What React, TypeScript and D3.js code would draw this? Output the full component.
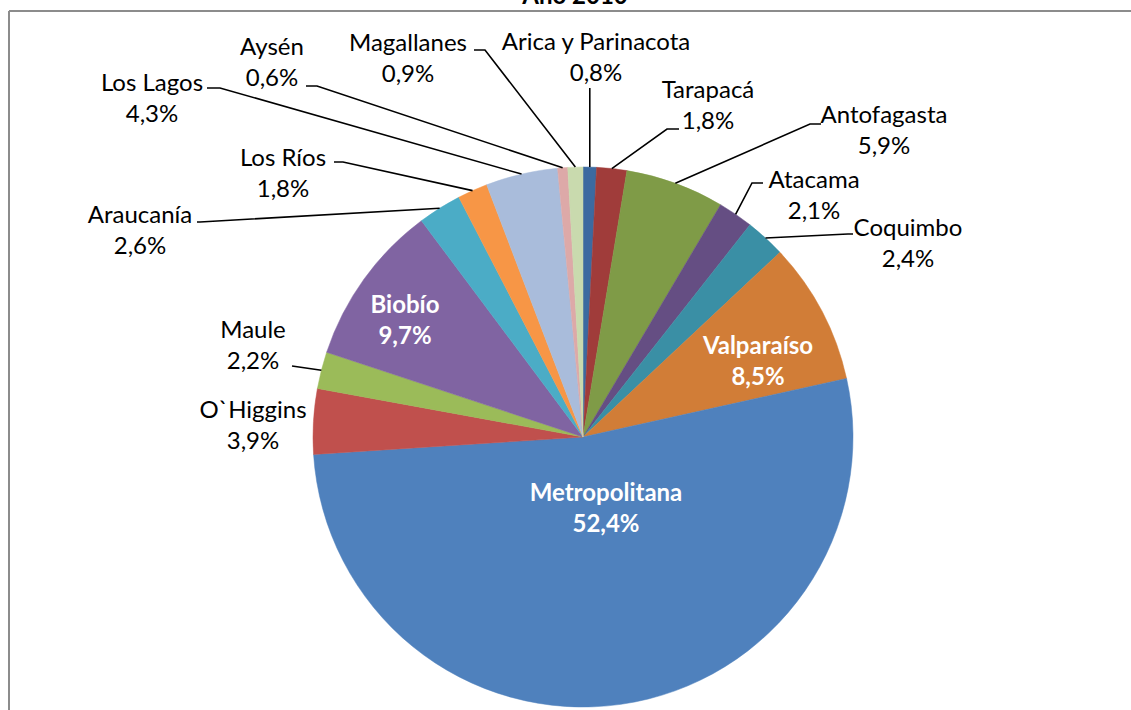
import React from "react";
import * as d3 from "d3";

const regions = ["Arica y Parinacota", "Tarapacá", "Antofagasta", "Atacama", "Coquimbo", "Valparaíso", "Metropolitana", "O`Higgins", "Maule", "Biobío", "Araucanía", "Los Ríos", "Los Lagos", "Aysén", "Magallanes"];
const shares = [0.8, 1.8, 5.9, 2.1, 2.4, 8.5, 52.4, 3.9, 2.2, 9.7, 2.6, 1.8, 4.3, 0.6, 0.9];
const labels = ["0,8%", "1,8%", "5,9%", "2,1%", "2,4%", "8,5%", "52,4%", "3,9%", "2,2%", "9,7%", "2,6%", "1,8%", "4,3%", "0,6%", "0,9%"];
const colors = ["#3C6AA0", "#A03C3A", "#7F9B47", "#654E83", "#3A8FA5", "#D17D37", "#4F81BD", "#C0504D", "#9BBB59", "#8064A2", "#4BACC6", "#F79646", "#A9BCDB", "#DDA9A8", "#C9DAAE"];
const title = "Año 2010";

// label layout: center x, visual center y of first line, inside flag, leader points (after arc point)
const layout: { x: number; y: number; inside?: boolean; pts?: [number, number][] }[] = [
  { x: 596, y: 42, pts: [[0, 88]] },
  { x: 708, y: 90, pts: [[667, 129], [679, 129]] },
  { x: 884, y: 115, pts: [[810, 124], [821, 124]] },
  { x: 814, y: 180, pts: [[752, 183], [763, 183]] },
  { x: 908, y: 228, pts: [[848, 234], [853, 234]] },
  { x: 758, y: 346, inside: true },
  { x: 606, y: 493, inside: true },
  { x: 253, y: 410 },
  { x: 253, y: 330, pts: [[292, 366]] },
  { x: 405, y: 305, inside: true },
  { x: 140, y: 215, pts: [[200, 222], [197, 222]] },
  { x: 283, y: 158, pts: [[343, 162], [334, 162]] },
  { x: 152, y: 83, pts: [[220, 88], [207, 88]] },
  { x: 272, y: 47, pts: [[317, 86], [306, 86]] },
  { x: 408, y: 43, pts: [[485, 50], [474, 50]] },
];

const W = 1131, H = 710;
const cx = 583, cy = 437, R = 270;
const FONT = "Lato, 'Open Sans', sans-serif";
const FS = 24;
const LH = 31;

export default function App() {
  const pie = d3.pie<number>().sort(null).value((d) => d);
  const arcs = pie(shares);
  const arc = d3.arc<d3.PieArcDatum<number>>().innerRadius(0).outerRadius(R);

  return (
    <svg width={W} height={H} style={{ position: "absolute", left: 0, top: 0, background: "#fff" }}>
      <text x={575} y={4} textAnchor="middle" fontFamily={FONT} fontWeight="bold" fontSize={24} fill="#000">{title}</text>
      <line x1={9} y1={11} x2={W} y2={11} stroke="#8c8c8c" strokeWidth={2} />
      <line x1={9} y1={11} x2={9} y2={H} stroke="#8c8c8c" strokeWidth={2} />
      <g transform={`translate(${cx},${cy})`}>
        {arcs.map((a, i) => (
          <path key={i} d={arc(a) || ""} fill={colors[i]} stroke={colors[i]} strokeWidth={0.5} />
        ))}
      </g>
      {arcs.map((a, i) => {
        const L = layout[i];
        if (!L.pts) return null;
        const mid = (a.startAngle + a.endAngle) / 2;
        const sx = cx + R * Math.sin(mid);
        const sy = cy - R * Math.cos(mid);
        const pts: [number, number][] = [[sx, sy], ...L.pts.map(([x, y]) => [x === 0 ? sx : x, y] as [number, number])];
        return <path key={i} d={d3.line()(pts) || ""} fill="none" stroke="#000" strokeWidth={1.6} />;
      })}
      {arcs.map((a, i) => {
        const L = layout[i];
        const fill = L.inside ? "#fff" : "#000";
        const fw = L.inside ? "bold" : "normal";
        return (
          <g key={i} fontFamily={FONT} fontSize={FS} fill={fill} fontWeight={fw} textAnchor="middle">
            <text x={L.x} y={L.y + 8}>{regions[i]}</text>
            <text x={L.x} y={L.y + 8 + LH}>{labels[i]}</text>
          </g>
        );
      })}
    </svg>
  );
}
